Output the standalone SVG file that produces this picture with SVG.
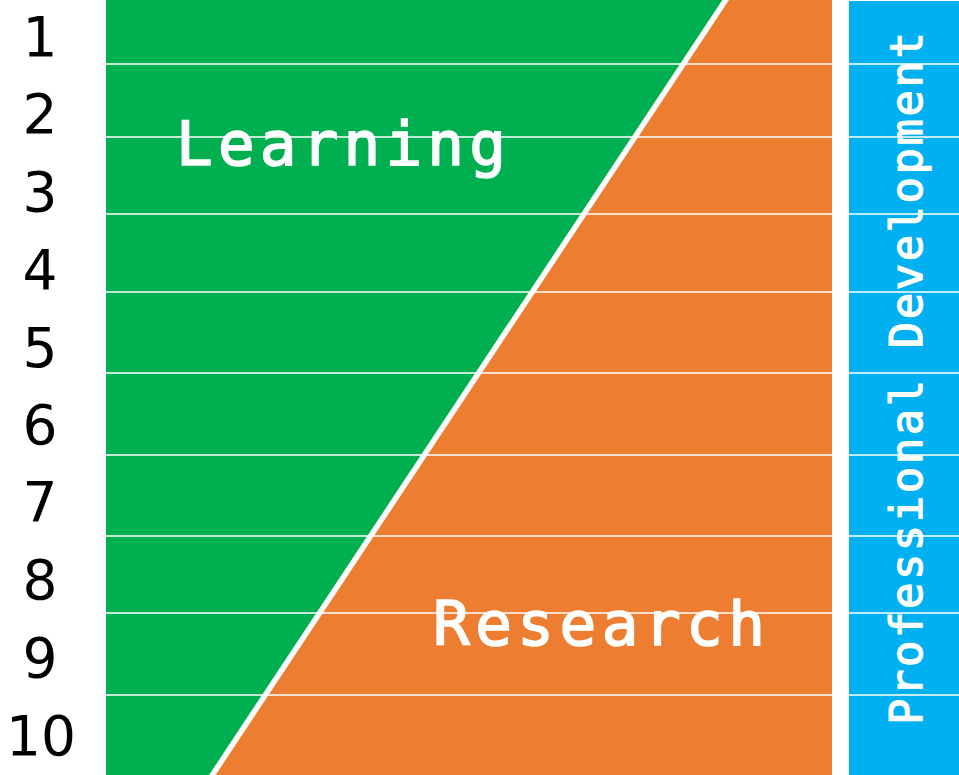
<svg xmlns="http://www.w3.org/2000/svg" width="959" height="775" viewBox="0 0 959 775">
<style>
.num{font-family:"DejaVu Sans",Verdana,sans-serif;font-size:55px;fill:#000;text-anchor:middle}
.lbl{font-family:"DejaVu Sans Mono","Liberation Mono",monospace;font-size:61px;fill:#fff;stroke:#fff;stroke-width:1.6}
.hl{stroke:#fff;stroke-width:1.5}
</style>
<rect width="959" height="775" fill="#fff"/>
<g id="learning">
<rect x="106" y="0" width="726" height="775" fill="#00B050"/>
<text class="lbl" x="176" y="165" textLength="330" lengthAdjust="spacing">Learning</text>
</g>
<g id="research">
<polygon points="727,0 832,0 832,775 211,775" fill="#ED7D31"/>
<text class="lbl" x="433" y="645" textLength="332" lengthAdjust="spacing">Research</text>
</g>
<g id="professional-development">
<rect x="849" y="1" width="110" height="774" fill="#00B0F0"/>
<text class="lbl" style="font-size:44px;stroke-width:1.2" transform="translate(922,725) rotate(-90)" textLength="693" lengthAdjust="spacing">Professional Development</text>
</g>
<g id="connectors">
<line x1="727" y1="-2" x2="211" y2="777" stroke="#fff" stroke-width="5.5"/>
<g class="hl">
<line x1="106" y1="64" x2="959" y2="64"/>
<line x1="106" y1="137" x2="959" y2="137"/>
<line x1="106" y1="214" x2="959" y2="214"/>
<line x1="106" y1="292" x2="959" y2="292"/>
<line x1="106" y1="373" x2="959" y2="373"/>
<line x1="106" y1="455" x2="959" y2="455"/>
<line x1="106" y1="536" x2="959" y2="536"/>
<line x1="106" y1="613" x2="959" y2="613"/>
<line x1="106" y1="695" x2="959" y2="695"/>
</g>
</g>
<g id="numbers">
<text class="num" x="40" y="56">1</text>
<text class="num" x="40" y="133">2</text>
<text class="num" x="40" y="211">3</text>
<text class="num" x="40" y="289">4</text>
<text class="num" x="40" y="367">5</text>
<text class="num" x="40" y="444">6</text>
<text class="num" x="40" y="521">7</text>
<text class="num" x="40" y="599">8</text>
<text class="num" x="40" y="677">9</text>
<text class="num" x="41" y="755">10</text>
</g>
</svg>
